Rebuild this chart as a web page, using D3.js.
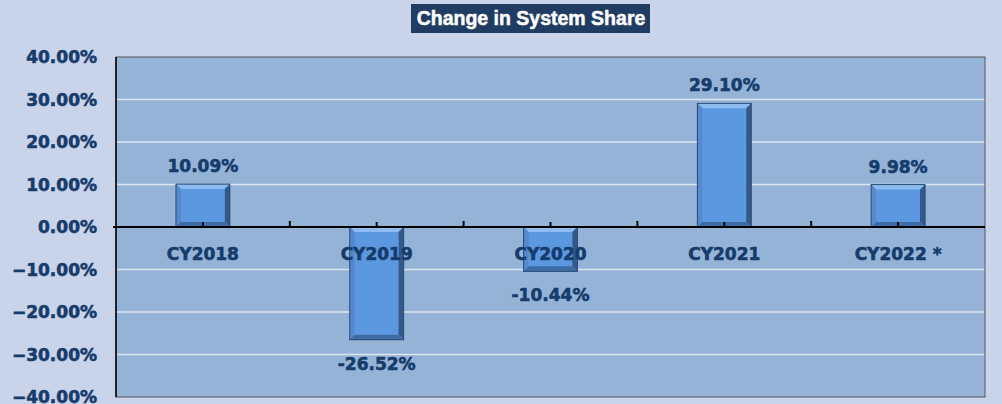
<!DOCTYPE html>
<html>
<head>
<meta charset="utf-8">
<script src="https://cdn.jsdelivr.net/npm/d3@7"></script>
<style>
  body { margin: 0; background: #c9d4ea; }
  svg { display: block; }
</style>
</head>
<body>
<div id="chart"></div>
<script>
var categories = ["CY2018", "CY2019", "CY2020", "CY2021", "CY2022 *"];
var values = [0.1009, -0.2652, -0.1044, 0.2910, 0.0998];
var labels = ["10.09%", "-26.52%", "-10.44%", "29.10%", "9.98%"];
var yTicks = [-0.4, -0.3, -0.2, -0.1, 0, 0.1, 0.2, 0.3, 0.4];

var W = 1002, H = 404;
var plot = {left: 116, right: 985, top: 57, bottom: 397};
var ink = "#163c6c";
var font = "'DejaVu Sans', Verdana, sans-serif";

var svg = d3.select("#chart").append("svg")
    .attr("width", W)
    .attr("height", H);

svg.append("rect")
    .attr("width", W).attr("height", H)
    .attr("fill", "#c9d4ea");

var x = d3.scaleBand()
    .domain(categories)
    .range([plot.left, plot.right])
    .paddingInner(0.69)
    .paddingOuter(0.345);

var y = d3.scaleLinear()
    .domain([-0.4, 0.4])
    .range([plot.bottom, plot.top]);

// plot area
svg.append("rect")
    .attr("x", plot.left).attr("y", plot.top)
    .attr("width", plot.right - plot.left)
    .attr("height", plot.bottom - plot.top)
    .attr("fill", "#95b3d7");

// gridlines
svg.append("g")
  .selectAll("line")
  .data(yTicks.filter(function (t) { return t !== 0 && Math.abs(t) < 0.4; }))
  .enter().append("line")
    .attr("x1", plot.left).attr("x2", plot.right)
    .attr("y1", function (d) { return y(d); })
    .attr("y2", function (d) { return y(d); })
    .attr("stroke", "#dde5f0")
    .attr("stroke-width", 1.5);

// plot border
svg.append("rect")
    .attr("x", plot.left).attr("y", plot.top)
    .attr("width", plot.right - plot.left)
    .attr("height", plot.bottom - plot.top)
    .attr("fill", "none")
    .attr("stroke", "#555")
    .attr("stroke-width", 1);

// bars with bevel
var bev = 5;
var bars = svg.append("g")
  .selectAll("g")
  .data(values)
  .enter().append("g")
    .attr("transform", function (d, i) {
      return "translate(" + x(categories[i]) + "," + Math.min(y(d), y(0)) + ")";
    });

bars.each(function (d) {
  var g = d3.select(this);
  var w = x.bandwidth();
  var h = Math.abs(y(d) - y(0));
  g.append("rect").attr("width", w).attr("height", h).attr("fill", "#5c98e0");
  g.append("polygon")
    .attr("points", [[0,0],[w,0],[w-bev,bev],[bev,bev]].join(" "))
    .attr("fill", "#8dbbf0");
  g.append("polygon")
    .attr("points", [[0,0],[bev,bev],[bev,h-bev],[0,h]].join(" "))
    .attr("fill", "#5589cb");
  g.append("polygon")
    .attr("points", [[w,0],[w,h],[w-bev,h-bev],[w-bev,bev]].join(" "))
    .attr("fill", "#33598a");
  g.append("polygon")
    .attr("points", [[0,h],[w,h],[w-bev,h-bev],[bev,h-bev]].join(" "))
    .attr("fill", "#3e6da6");
  g.append("rect").attr("width", w).attr("height", h)
    .attr("fill", "none").attr("stroke", "#2a4a75").attr("stroke-width", 1);
});

// zero axis line
var xAxis = svg.append("g")
    .attr("transform", "translate(0," + y(0) + ")");
xAxis.append("line")
    .attr("x1", plot.left - 3).attr("x2", plot.right)
    .attr("stroke", "#000").attr("stroke-width", 2);

xAxis.selectAll("line.tick")
  .data(categories.slice(1))
  .enter().append("line")
    .attr("x1", function (c) { return x(c) - (x.step() - x.bandwidth()) / 2; })
    .attr("x2", function (c) { return x(c) - (x.step() - x.bandwidth()) / 2; })
    .attr("y1", 0).attr("y2", -6)
    .attr("stroke", "#000").attr("stroke-width", 2);
xAxis.selectAll("line.ctick")
  .data(categories)
  .enter().append("line")
    .attr("x1", function (c) { return x(c) + x.bandwidth() / 2; })
    .attr("x2", function (c) { return x(c) + x.bandwidth() / 2; })
    .attr("y1", 0).attr("y2", -5)
    .attr("stroke", "#000").attr("stroke-width", 2);

// left axis line
svg.append("line")
    .attr("x1", plot.left).attr("x2", plot.left)
    .attr("y1", plot.top).attr("y2", plot.bottom)
    .attr("stroke", "#000").attr("stroke-width", 1.5);

function boldText(sel) {
  sel.attr("font-family", font)
    .attr("font-weight", "bold")
    .attr("font-size", "17px")
    .attr("fill", ink)
    .attr("stroke", ink)
    .attr("stroke-width", 0.6);
}

// y tick labels
svg.append("g")
  .selectAll("text")
  .data(yTicks)
  .enter().append("text")
    .attr("x", 97)
    .attr("y", function (d) { return y(d) + 6; })
    .attr("text-anchor", "end")
    .call(boldText)
    .text(function (d) { return d3.format(".2%")(d); });

// category labels
svg.append("g")
  .selectAll("text")
  .data(categories)
  .enter().append("text")
    .attr("x", function (c) { return x(c) + x.bandwidth() / 2; })
    .attr("y", y(0) + 33)
    .attr("text-anchor", "middle")
    .call(boldText)
    .text(function (c) { return c; });

// value labels
svg.append("g")
  .selectAll("text")
  .data(values)
  .enter().append("text")
    .attr("x", function (d, i) { return x(categories[i]) + x.bandwidth() / 2; })
    .attr("y", function (d) { return d >= 0 ? y(d) - 12 : y(d) + 30; })
    .attr("text-anchor", "middle")
    .call(boldText)
    .text(function (d, i) { return labels[i]; });

// title
var title = svg.append("g");
title.append("rect")
    .attr("x", 411).attr("y", 4)
    .attr("width", 239).attr("height", 29)
    .attr("fill", "#203c62");
title.append("text")
    .attr("x", 531).attr("y", 25)
    .attr("text-anchor", "middle")
    .attr("font-family", "'Liberation Sans', Arial, sans-serif")
    .attr("font-weight", "bold")
    .attr("font-size", "19.5px")
    .attr("fill", "#fff")
    .attr("stroke", "#fff")
    .attr("stroke-width", 0.5)
    .text("Change in System Share");
</script>
</body>
</html>
